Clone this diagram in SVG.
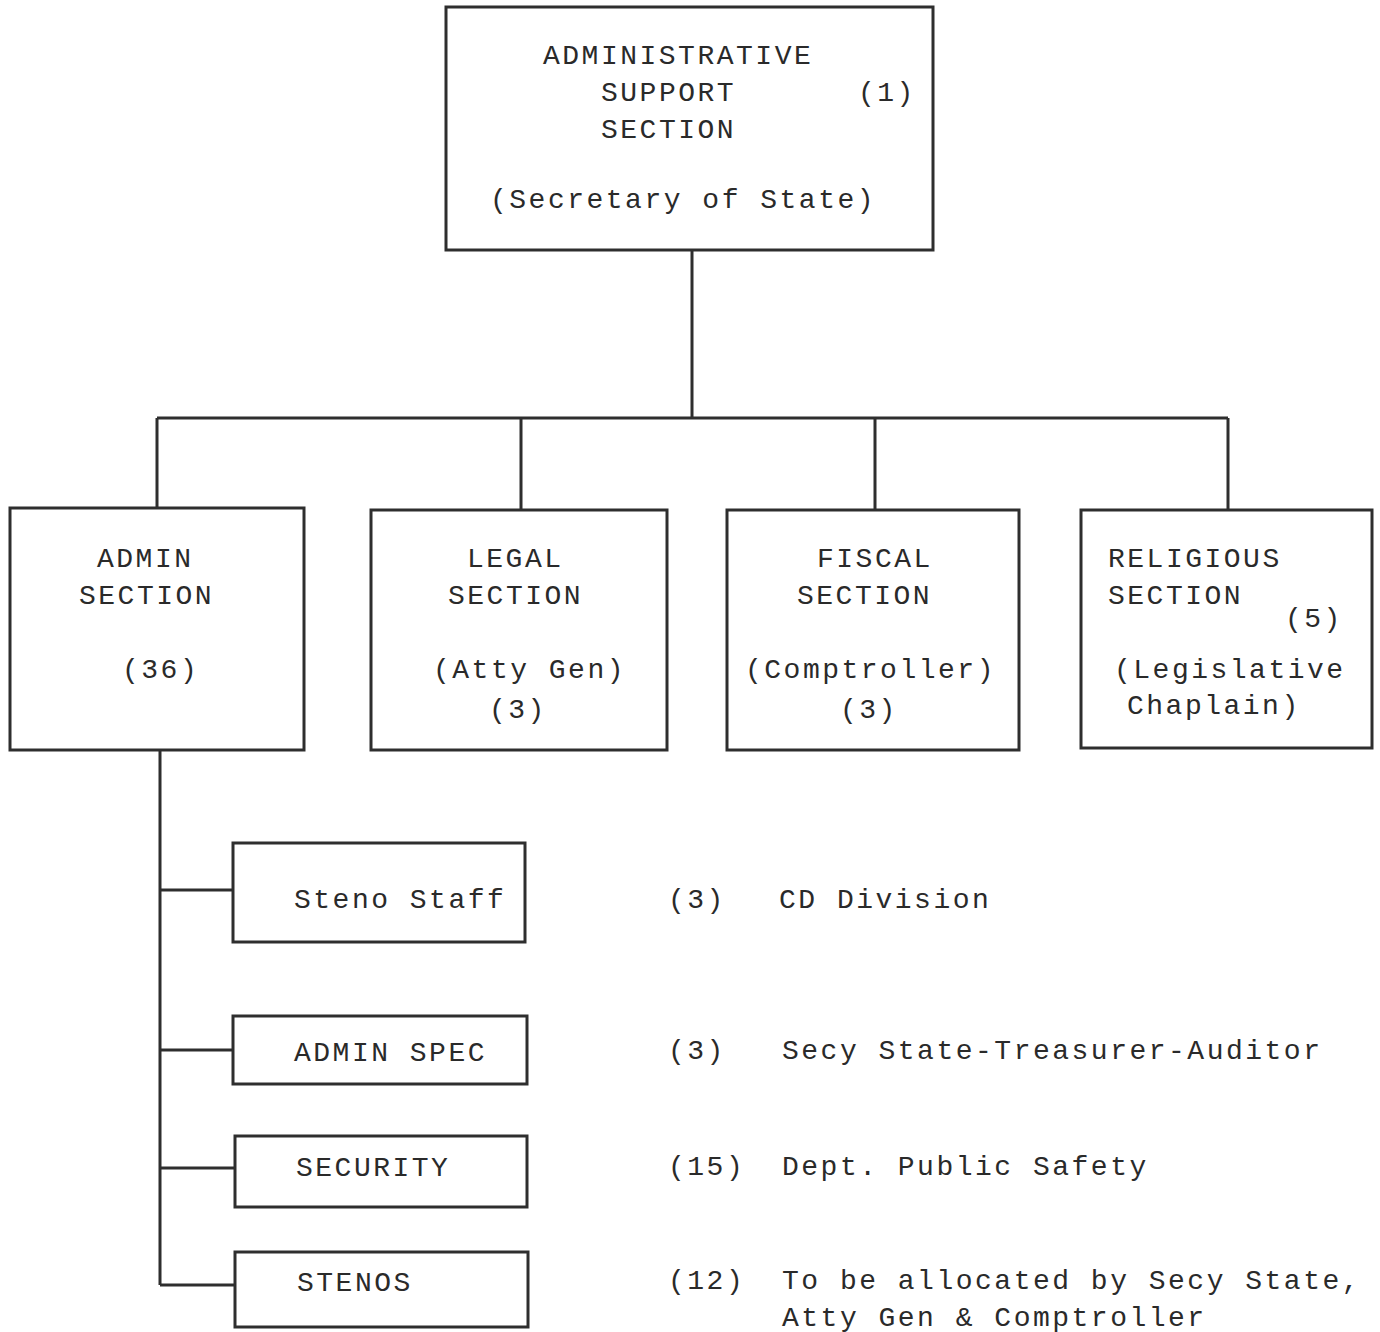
<svg xmlns="http://www.w3.org/2000/svg" width="1380" height="1332" viewBox="0 0 1380 1332">
  <style>
    .box { fill: none; stroke: #2e2e2e; stroke-width: 3; }
    .wire { fill: none; stroke: #2e2e2e; stroke-width: 3; }
    text { font-family: "Liberation Mono", "Courier New", monospace; font-size: 28px; letter-spacing: 2.5px; fill: #2a2a2a; }
  </style>
  <rect width="1380" height="1332" fill="#ffffff"/>

  <g id="connectors">
    <path class="wire" d="M692 250 V418 M157 418 H1228 M157 418 V508 M521 418 V510 M875 418 V510 M1228 418 V510"/>
    <path class="wire" d="M160 750 V1285 M160 890 H233 M160 1050 H233 M160 1168 H235 M160 1285 H235"/>
  </g>

  <g id="admin-support">
    <rect class="box" x="446" y="7" width="487" height="243"/>
    <text x="543" y="64">ADMINISTRATIVE</text>
    <text x="601" y="101">SUPPORT</text>
    <text x="858" y="101">(1)</text>
    <text x="601" y="138">SECTION</text>
    <text x="490" y="208">(Secretary of State)</text>
  </g>

  <g id="admin-section">
    <rect class="box" x="10" y="508" width="294" height="242"/>
    <text x="97" y="567">ADMIN</text>
    <text x="79" y="604">SECTION</text>
    <text x="122" y="678">(36)</text>
  </g>

  <g id="legal-section">
    <rect class="box" x="371" y="510" width="296" height="240"/>
    <text x="467" y="567">LEGAL</text>
    <text x="448" y="604">SECTION</text>
    <text x="433" y="678">(Atty Gen)</text>
    <text x="489" y="718">(3)</text>
  </g>

  <g id="fiscal-section">
    <rect class="box" x="727" y="510" width="292" height="240"/>
    <text x="817" y="567">FISCAL</text>
    <text x="797" y="604">SECTION</text>
    <text x="745" y="678">(Comptroller)</text>
    <text x="840" y="718">(3)</text>
  </g>

  <g id="religious-section">
    <rect class="box" x="1081" y="510" width="291" height="238"/>
    <text x="1108" y="567">RELIGIOUS</text>
    <text x="1108" y="604">SECTION</text>
    <text x="1285" y="627">(5)</text>
    <text x="1114" y="678">(Legislative</text>
    <text x="1127" y="714">Chaplain)</text>
  </g>

  <g id="steno-staff">
    <rect class="box" x="233" y="843" width="292" height="99"/>
    <text x="294" y="908">Steno Staff</text>
    <text x="668" y="908">(3)</text>
    <text x="779" y="908">CD Division</text>
  </g>

  <g id="admin-spec">
    <rect class="box" x="233" y="1016" width="294" height="68"/>
    <text x="294" y="1061">ADMIN SPEC</text>
    <text x="668" y="1059">(3)</text>
    <text x="782" y="1059">Secy State-Treasurer-Auditor</text>
  </g>

  <g id="security">
    <rect class="box" x="235" y="1136" width="292" height="71"/>
    <text x="296" y="1176">SECURITY</text>
    <text x="668" y="1175">(15)</text>
    <text x="782" y="1175">Dept. Public Safety</text>
  </g>

  <g id="stenos">
    <rect class="box" x="235" y="1252" width="293" height="75"/>
    <text x="297" y="1291">STENOS</text>
    <text x="668" y="1289">(12)</text>
    <text x="782" y="1289">To be allocated by Secy State,</text>
    <text x="782" y="1326">Atty Gen &amp; Comptroller</text>
  </g>
</svg>
